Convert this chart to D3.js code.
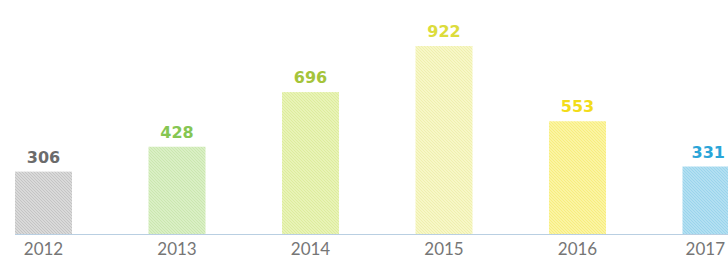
<!DOCTYPE html>
<html>
<head>
<meta charset="utf-8">
<script src="https://cdn.jsdelivr.net/npm/d3@7"></script>
<style>
  html, body { margin: 0; padding: 0; background: #ffffff; }
  svg { display: block; }
</style>
</head>
<body>
<div id="chart"></div>
<script>
"use strict";

// data
var years = ["2012", "2013", "2014", "2015", "2016", "2017"];
var values = [306, 428, 696, 922, 553, 331];

// per-bar colours: label, hatch base, hatch lines
var labelColors = ["#6b6b6b", "#86c653", "#a5c43a", "#dcdc3c", "#f2dc1a", "#2aa5d8"];
var baseColors  = ["#d9d9d9", "#d9efc4", "#e8f3b6", "#f7f7c6", "#fbf4a2", "#b2dff1"];
var lineColors  = ["#c2c2c2", "#c8e7ad", "#dbeb9a", "#eeeeac", "#f6ec7a", "#97d3eb"];

var width = 728, height = 260;
var baseY = 234;

var svg = d3.select("#chart")
    .append("svg")
    .attr("width", width)
    .attr("height", height);

var defs = svg.append("defs");

years.forEach(function (y, i) {
    var p = defs.append("pattern")
        .attr("id", "hatch" + i)
        .attr("patternUnits", "userSpaceOnUse")
        .attr("width", 3)
        .attr("height", 3);
    p.append("rect")
        .attr("width", 3)
        .attr("height", 3)
        .attr("fill", baseColors[i]);
    p.append("path")
        .attr("d", "M-1,-1 L4,4 M-1,2 L1,4 M2,-1 L4,1")
        .attr("stroke", lineColors[i])
        .attr("stroke-width", 0.9);
});

var xScale = d3.scaleBand()
    .domain(years)
    .range([15, 739.5])
    .paddingInner(0.573)
    .paddingOuter(0);

var yScale = d3.scaleLinear()
    .domain([0, 922])
    .range([baseY, 46]);

// keep a label inside the right edge (the last bar runs off the picture)
function keepInside(sel) {
    sel.each(function () {
        var t = d3.select(this);
        var w = this.getComputedTextLength();
        var cx = +t.attr("x");
        if (cx + w / 2 > width - 3) {
            t.attr("text-anchor", "end").attr("x", width - 3);
        }
    });
}

// baseline
svg.append("line")
    .attr("x1", xScale(years[0]))
    .attr("x2", width)
    .attr("y1", baseY + 0.5)
    .attr("y2", baseY + 0.5)
    .attr("stroke", "#b9cfe2")
    .attr("stroke-width", 1);

// bars
svg.selectAll(".bar")
    .data(values)
    .enter()
    .append("rect")
    .attr("class", "bar")
    .attr("x", function (d, i) { return xScale(years[i]); })
    .attr("y", function (d) { return yScale(d); })
    .attr("width", xScale.bandwidth())
    .attr("height", function (d) { return baseY - yScale(d); })
    .attr("fill", function (d, i) { return "url(#hatch" + i + ")"; });

// value labels
svg.selectAll(".value")
    .data(values)
    .enter()
    .append("text")
    .attr("class", "value")
    .attr("x", function (d, i) { return xScale(years[i]) + xScale.bandwidth() / 2; })
    .attr("y", function (d) { return yScale(d) - 9; })
    .attr("text-anchor", "middle")
    .style("font-family", "'DejaVu Sans', sans-serif")
    .style("font-weight", "bold")
    .style("font-size", "16px")
    .attr("fill", function (d, i) { return labelColors[i]; })
    .text(function (d) { return d; })
    .call(keepInside);

// year labels
svg.selectAll(".year")
    .data(years)
    .enter()
    .append("text")
    .attr("class", "year")
    .attr("x", function (d) { return xScale(d) + xScale.bandwidth() / 2; })
    .attr("y", 255)
    .attr("text-anchor", "middle")
    .style("font-family", "Lato, 'Open Sans', sans-serif")
    .style("font-weight", "400")
    .style("font-size", "17px")
    .attr("fill", "#767676")
    .text(function (d) { return d; })
    .call(keepInside);
</script>
</body>
</html>
